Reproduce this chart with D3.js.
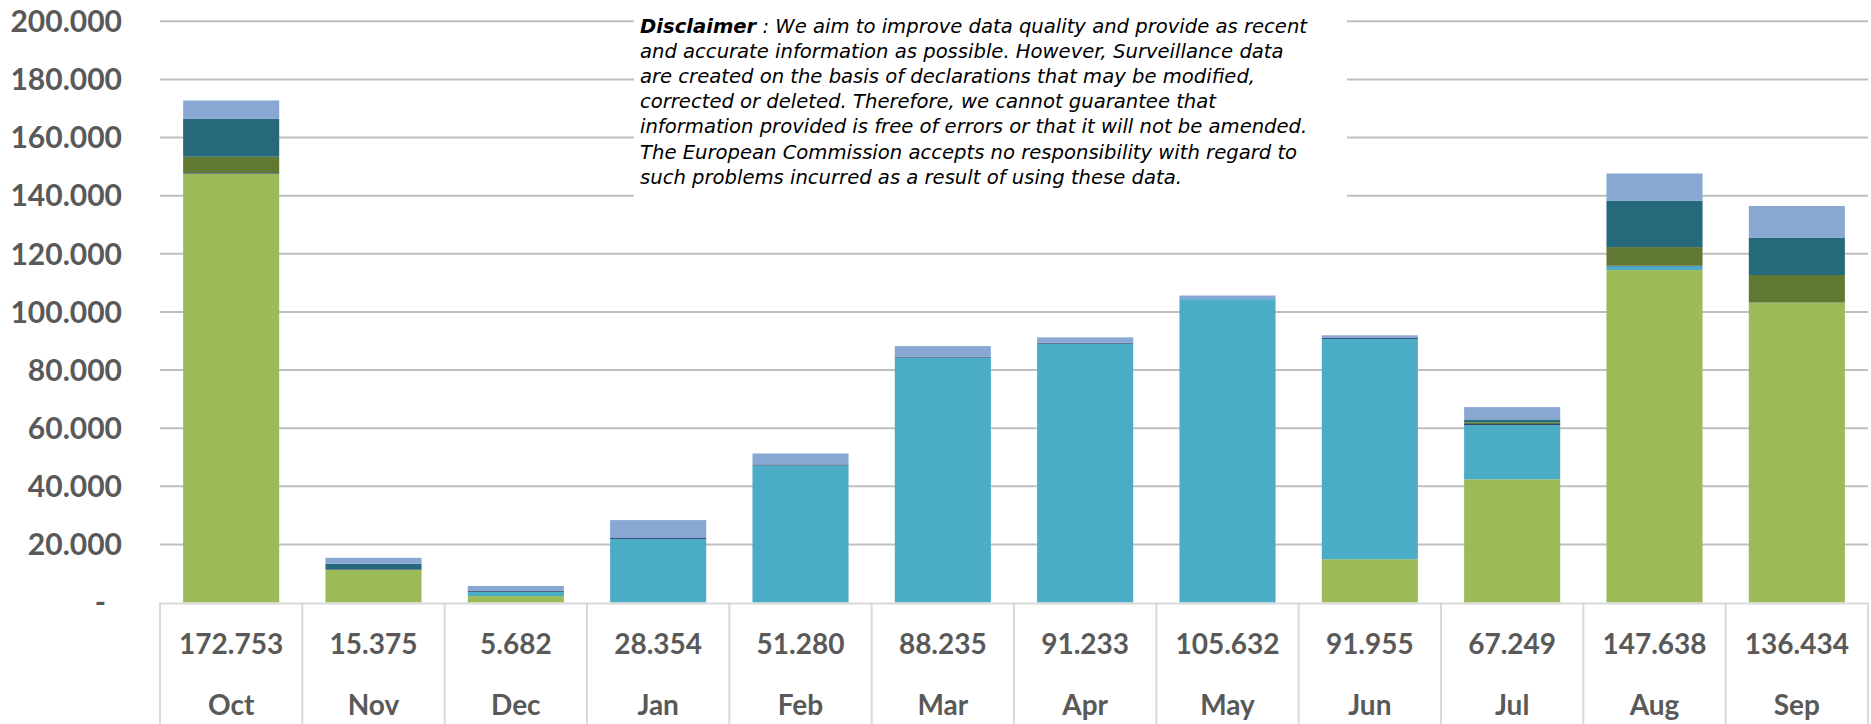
<!DOCTYPE html>
<html>
<head>
<meta charset="utf-8">
<script src="https://cdn.jsdelivr.net/npm/d3@7"></script>
<style>
    body { margin: 0; background: #fff; }
    svg { display: block; }
</style>
</head>
<body>
<svg id="chart"></svg>
<script>
//DATA-----------------------------------------------------------------------------------
const months = ["Oct", "Nov", "Dec", "Jan", "Feb", "Mar", "Apr", "May", "Jun", "Jul", "Aug", "Sep"];
const totals = [172753, 15375, 5682, 28354, 51280, 88235, 91233, 105632, 91955, 67249, 147638, 136434];

// stacked series, bottom to top
const green = [147600, 11300, 2200, 0, 0, 0, 0, 0, 14900, 42400, 114400, 103200];
const cyan = [0, 0, 1500, 21900, 47200, 84300, 89100, 104400, 75800, 18600, 1300, 0];
const navy = [200, 200, 400, 300, 300, 300, 300, 0, 300, 400, 200, 100];
const olive = [5600, 0, 0, 0, 0, 0, 0, 0, 0, 600, 6400, 9400];
const teal = [13000, 1800, 0, 0, 0, 0, 0, 0, 50, 1000, 15900, 12900];
const lightBlue = [6353, 2075, 1582, 6154, 3780, 3635, 1833, 1232, 905, 4249, 9438, 10834];

const yTicks = [0, 20000, 40000, 60000, 80000, 100000, 120000, 140000, 160000, 180000, 200000];

const disclaimerLines = [
    "and accurate information as possible. However, Surveillance data",
    "are created on the basis of declarations that may be modified,",
    "corrected or deleted. Therefore, we cannot guarantee that",
    "information provided is free of errors or that it will not be amended.",
    "The European Commission accepts no responsibility with regard to",
    "such problems incurred as a result of using these data."
];

const seriesKeys = ["green", "cyan", "navy", "olive", "teal", "lightBlue"];
const seriesColors = ["#9BBB59", "#4BACC6", "#1F3864", "#617832", "#26697A", "#88A8D3"];
const seriesValues = [green, cyan, navy, olive, teal, lightBlue];

// table for d3.stack
const rows = months.map((m, i) => {
    const row = { month: m };
    seriesKeys.forEach((k, j) => row[k] = seriesValues[j][i]);
    return row;
});

//SETUP-----------------------------------------------------------------------------------
const width = 1871;
const height = 724;

const svg = d3.select("#chart")
    .attr("width", width)
    .attr("height", height);

const plotLeft = 160;
const plotRight = 1868;
const baseY = 602.5;

const x = d3.scaleBand()
    .domain(months)
    .range([plotLeft, plotRight])
    .paddingInner(0.325)
    .paddingOuter(0.1625);

const y = d3.scaleLinear()
    .domain([0, 200000])
    .range([baseY, 21.3]);

const fmt = v => v === 0 ? "-" : d3.format(",")(v).replace(/,/g, ".");

//GRIDLINES-------------------------------------------------------------------------------
svg.append("g")
    .selectAll("line")
    .data(yTicks.filter(d => d > 0))
    .join("line")
    .attr("x1", plotLeft)
    .attr("x2", plotRight)
    .attr("y1", d => y(d))
    .attr("y2", d => y(d))
    .attr("stroke", "#BFBFBF")
    .attr("stroke-width", 2);

//y labels
svg.append("g")
    .selectAll("text")
    .data(yTicks)
    .join("text")
    .attr("x", d => d === 0 ? 106 : 122)
    .attr("y", d => y(d))
    .attr("dy", "0.36em")
    .attr("text-anchor", "end")
    .attr("font-family", "Lato, sans-serif")
    .attr("font-weight", "bold")
    .attr("font-size", 30)
    .attr("fill", "#595959")
    .text(fmt);

//BARS-----------------------------------------------------------------------------------
const stacked = d3.stack().keys(seriesKeys)(rows);

svg.append("g")
    .selectAll("g")
    .data(stacked)
    .join("g")
    .attr("fill", (d, i) => seriesColors[i])
    .selectAll("rect")
    .data(d => d)
    .join("rect")
    .attr("x", d => x(d.data.month))
    .attr("width", x.bandwidth())
    .attr("y", d => y(d[1]))
    .attr("height", d => Math.max(0, y(d[0]) - y(d[1])));

//TABLE UNDER THE AXIS-------------------------------------------------------------------
const step = x.step();
const table = svg.append("g");

table.append("line")
    .attr("x1", plotLeft)
    .attr("x2", plotRight)
    .attr("y1", baseY + 1)
    .attr("y2", baseY + 1)
    .attr("stroke", "#D9D9D9")
    .attr("stroke-width", 2);

table.selectAll(".sep")
    .data(d3.range(months.length + 1))
    .join("line")
    .attr("class", "sep")
    .attr("x1", i => plotLeft + i * step)
    .attr("x2", i => plotLeft + i * step)
    .attr("y1", baseY)
    .attr("y2", height)
    .attr("stroke", "#D9D9D9")
    .attr("stroke-width", 2);

// totals row
table.selectAll(".total")
    .data(months)
    .join("text")
    .attr("class", "total")
    .attr("x", d => x(d) + x.bandwidth() / 2)
    .attr("y", 644)
    .attr("dy", "0.36em")
    .attr("text-anchor", "middle")
    .attr("font-family", "Lato, sans-serif")
    .attr("font-weight", "bold")
    .attr("font-size", 28)
    .attr("fill", "#595959")
    .text((d, i) => fmt(totals[i]));

// month row
table.selectAll(".month")
    .data(months)
    .join("text")
    .attr("class", "month")
    .attr("x", d => x(d) + x.bandwidth() / 2)
    .attr("y", 705)
    .attr("dy", "0.36em")
    .attr("text-anchor", "middle")
    .attr("font-family", "Lato, sans-serif")
    .attr("font-weight", "bold")
    .attr("font-size", 28)
    .attr("fill", "#595959")
    .text(d => d);

//DISCLAIMER------------------------------------------------------------------------------
const note = svg.append("g");

note.append("rect")
    .attr("x", 634)
    .attr("y", 4)
    .attr("width", 713)
    .attr("height", 212)
    .attr("fill", "#fff");

const noteText = note.append("text")
    .attr("font-family", "'DejaVu Sans', Verdana, sans-serif")
    .attr("font-style", "italic")
    .attr("font-size", 19.6)
    .attr("fill", "#000");

const first = noteText.append("tspan")
    .attr("x", 640)
    .attr("y", 33);
first.append("tspan")
    .attr("font-weight", "bold")
    .text("Disclaimer");
first.append("tspan")
    .text(" : We aim to improve data quality and provide as recent");

disclaimerLines.forEach((line, i) => {
    noteText.append("tspan")
        .attr("x", 640)
        .attr("y", 33 + (i + 1) * 25.1)
        .text(line);
});
</script>
</body>
</html>
